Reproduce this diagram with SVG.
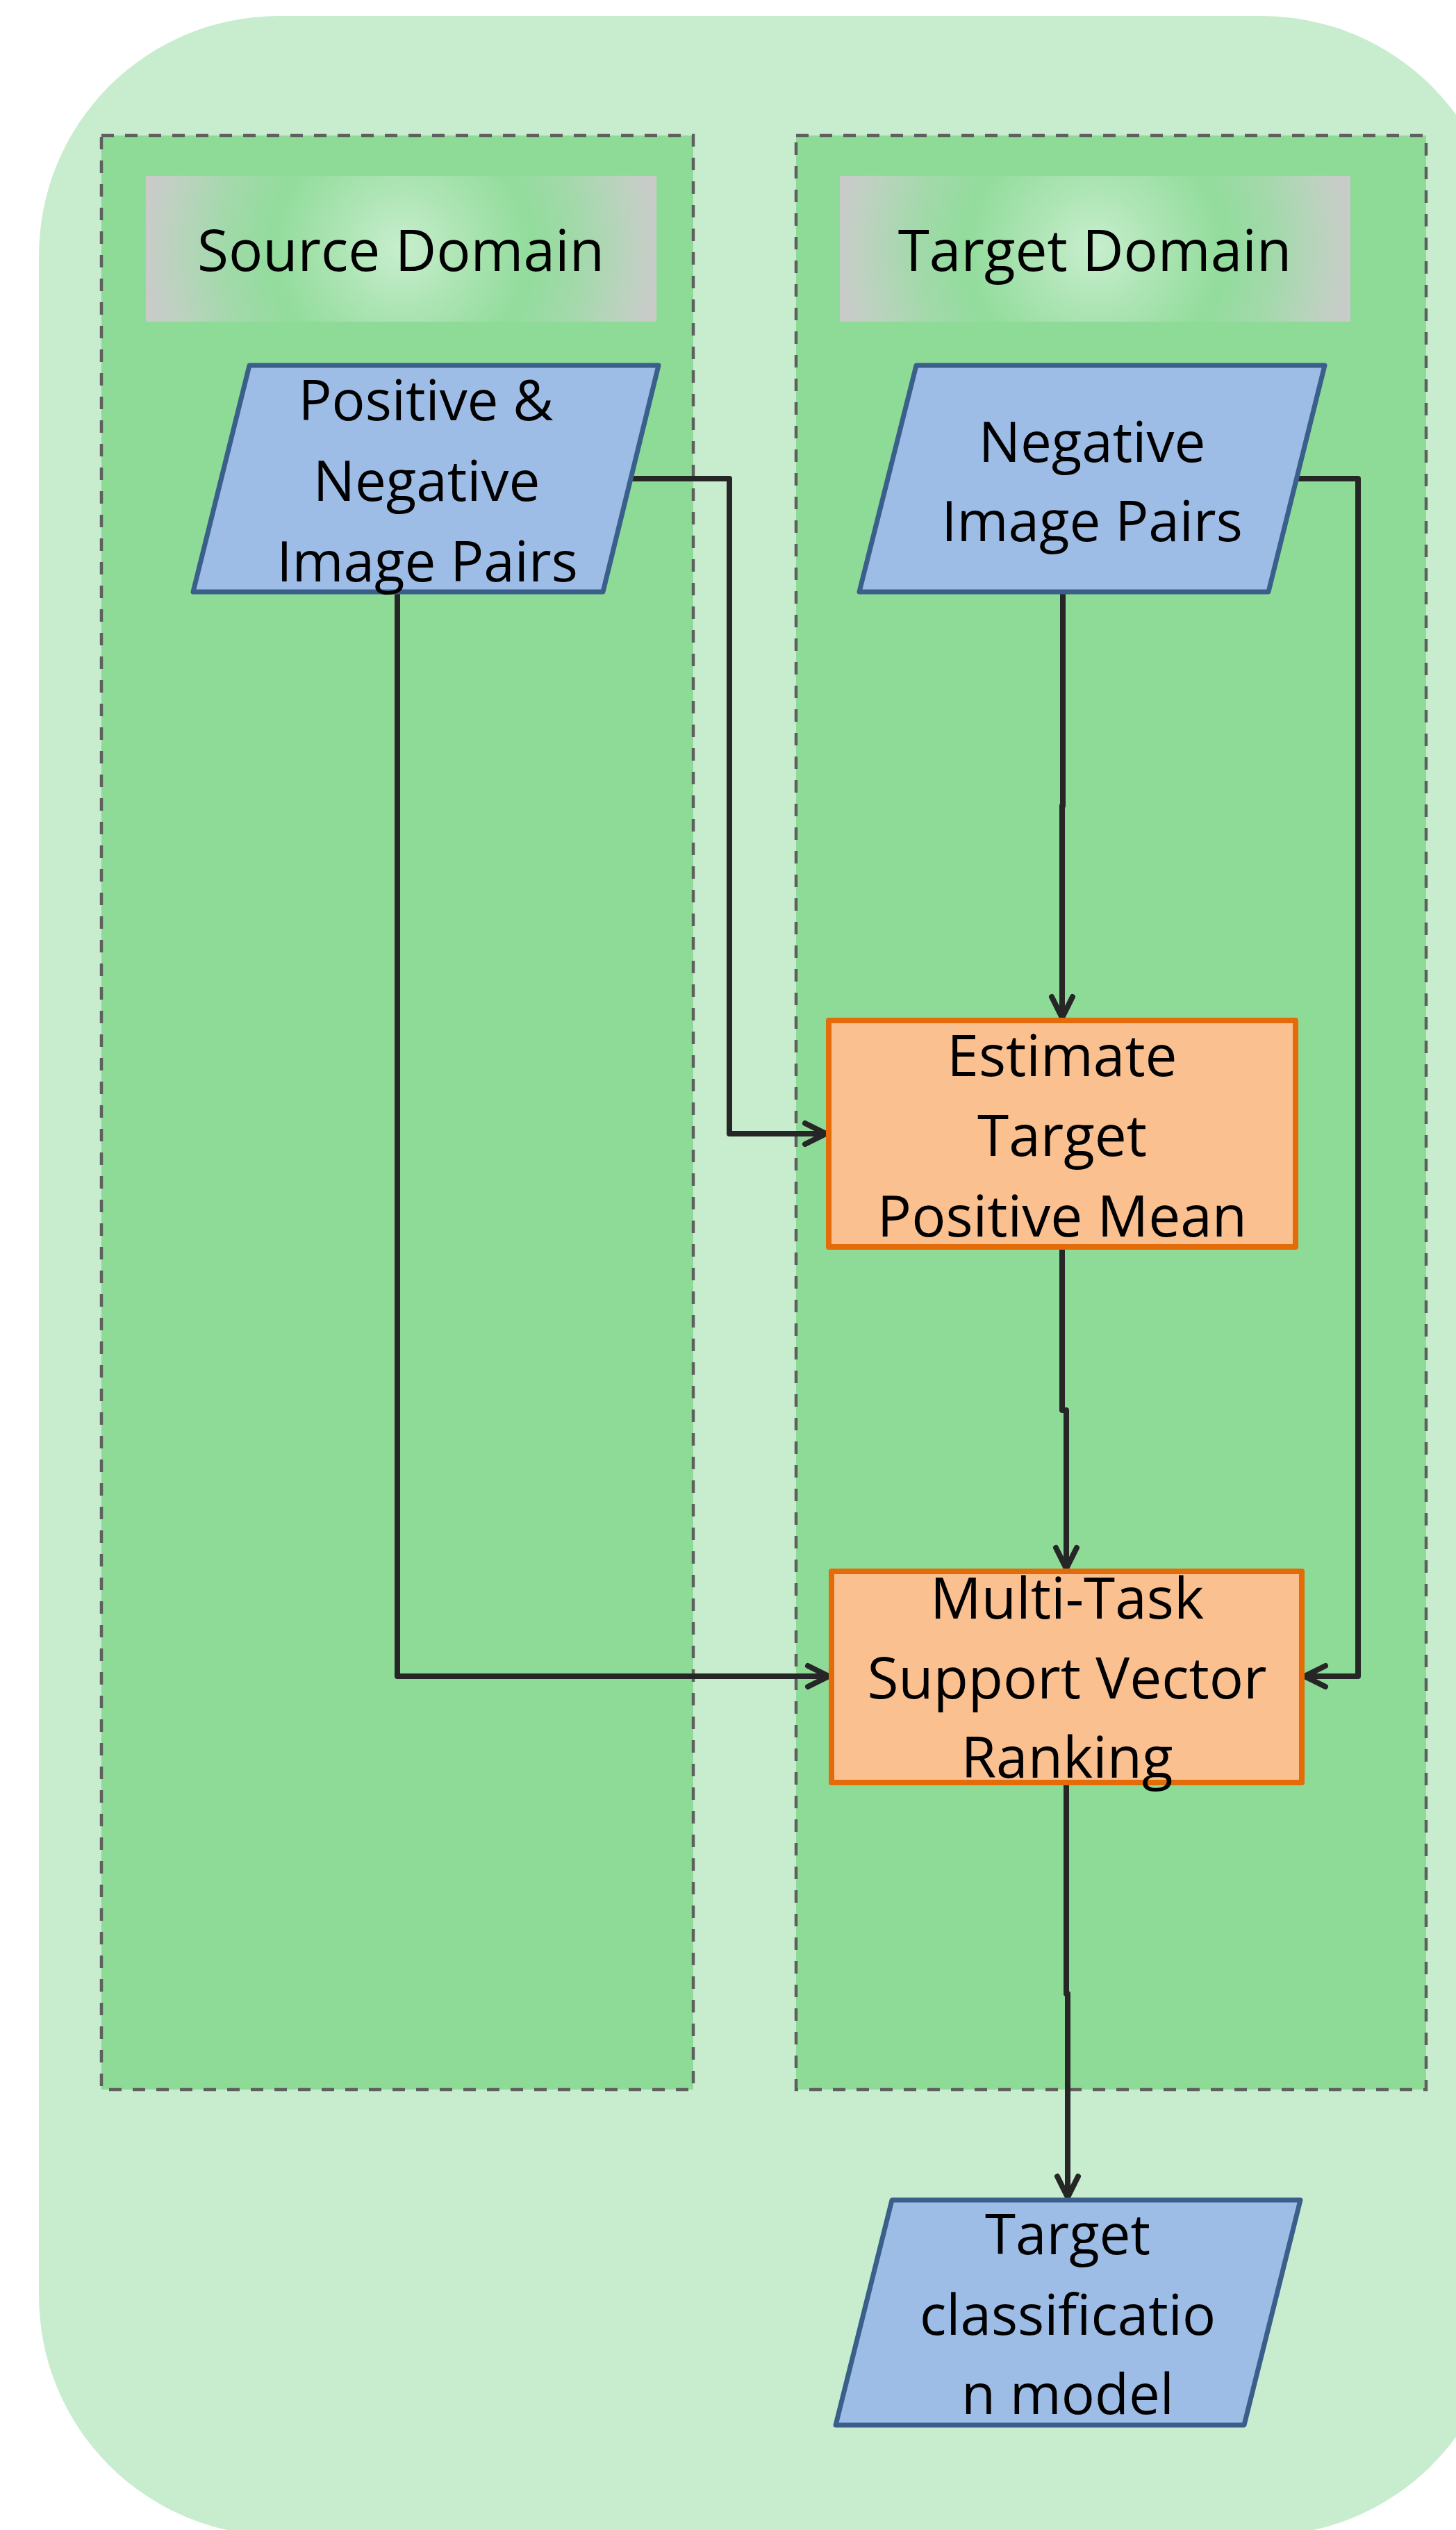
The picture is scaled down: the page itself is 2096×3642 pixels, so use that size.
<svg xmlns="http://www.w3.org/2000/svg" width="2096" height="3642" viewBox="0 0 2096 3642">
<style>
.lbl{font-family:"Open Sans","Liberation Sans",sans-serif;fill:#000;text-anchor:middle}
.h{font-size:82px}
.b{font-size:80px}
.o{font-size:82px}
.dom{fill:#8EDB98;stroke:#5F5F5F;stroke-width:4.5;stroke-dasharray:18 16}
.para{fill:#9DBDE6;stroke:#3A5F8B;stroke-width:7;stroke-linejoin:round}
.proc{fill:#FAC090;stroke:#E36C09;stroke-width:8;stroke-linejoin:round}
.edge{fill:none;stroke:#262626;stroke-width:8;stroke-linejoin:round}
</style>
<defs>
<radialGradient id="gs" gradientUnits="userSpaceOnUse" cx="577.5" cy="358" r="370">
<stop offset="0" stop-color="#C8EECE"/>
<stop offset="0.23" stop-color="#AEE5B5"/>
<stop offset="0.5" stop-color="#92DC9C"/>
<stop offset="0.7" stop-color="#A3D9AB"/>
<stop offset="0.9" stop-color="#BDD2C0"/>
<stop offset="1" stop-color="#C9CBC9"/>
</radialGradient>
<radialGradient id="gt" href="#gs" cx="1576.5" cy="358" r="370"/>
<marker id="arr" markerUnits="userSpaceOnUse" markerWidth="44" markerHeight="44" viewBox="-38 -22 44 44" refX="0" refY="0" orient="auto">
<path d="M -30 -15 L 0 0 L -30 15" fill="none" stroke="#262626" stroke-width="8" stroke-linecap="round" stroke-linejoin="miter"/>
</marker>
</defs>
<rect id="background" x="56" y="23" width="2106" height="3627" rx="345" ry="345" fill="#C8EDCE"/>
<g id="source-domain">
<rect class="dom" x="146" y="195" width="852" height="2813"/>
<rect x="210" y="253" width="735" height="210" fill="url(#gs)"/>
<text class="lbl h" x="577" y="390">Source Domain</text>
</g>
<g id="target-domain">
<rect class="dom" x="1146" y="195" width="907" height="2813"/>
<rect x="1209" y="253" width="735" height="210" fill="url(#gt)"/>
<text class="lbl h" x="1576" y="390">Target Domain</text>
</g>
<g id="connectors">
<path class="edge" d="M 908 689 L 1050 689 L 1050 1632 L 1189 1632" marker-end="url(#arr)"/>
<path class="edge" d="M 572 852 L 572 2413 L 1193 2413" marker-end="url(#arr)"/>
<path class="edge" d="M 1530 852 L 1530 1160 L 1529 1160 L 1529 1465" marker-end="url(#arr)"/>
<path class="edge" d="M 1866 689 L 1955 689 L 1955 2413 L 1878 2413" marker-end="url(#arr)"/>
<path class="edge" d="M 1529 1795 L 1529 2030 L 1535 2030 L 1535 2258" marker-end="url(#arr)"/>
<path class="edge" d="M 1535 2566 L 1535 2870 L 1537 2870 L 1537 3163" marker-end="url(#arr)"/>
</g>
<g id="source-pairs">
<polygon class="para" points="359,526 948,526 868,852 278,852"/>
<text class="lbl b" x="613" y="605">Positive &amp;</text>
<text class="lbl b" x="614" y="721">Negative</text>
<text class="lbl b" x="615" y="837">Image Pairs</text>
</g>
<g id="target-negative-pairs">
<polygon class="para" points="1319,526 1907,526 1826,852 1237,852"/>
<text class="lbl b" x="1572" y="665">Negative</text>
<text class="lbl b" x="1572" y="779">Image Pairs</text>
</g>
<g id="estimate-mean">
<rect class="proc" x="1193" y="1469" width="672" height="326"/>
<text class="lbl o" x="1529" y="1549">Estimate</text>
<text class="lbl o" x="1529" y="1664">Target</text>
<text class="lbl o" x="1529" y="1780">Positive Mean</text>
</g>
<g id="mtsvr">
<rect class="proc" x="1197" y="2262" width="677" height="304"/>
<text class="lbl o" x="1536" y="2330">Multi-Task</text>
<text class="lbl o" x="1536" y="2445">Support Vector</text>
<text class="lbl o" x="1536" y="2559">Ranking</text>
</g>
<g id="target-model">
<polygon class="para" points="1284,3167 1872,3167 1791,3491 1203,3491"/>
<text class="lbl b" x="1537" y="3245">Target</text>
<text class="lbl b" x="1537" y="3361">classificatio</text>
<text class="lbl b" x="1537" y="3475">n model</text>
</g>
</svg>
